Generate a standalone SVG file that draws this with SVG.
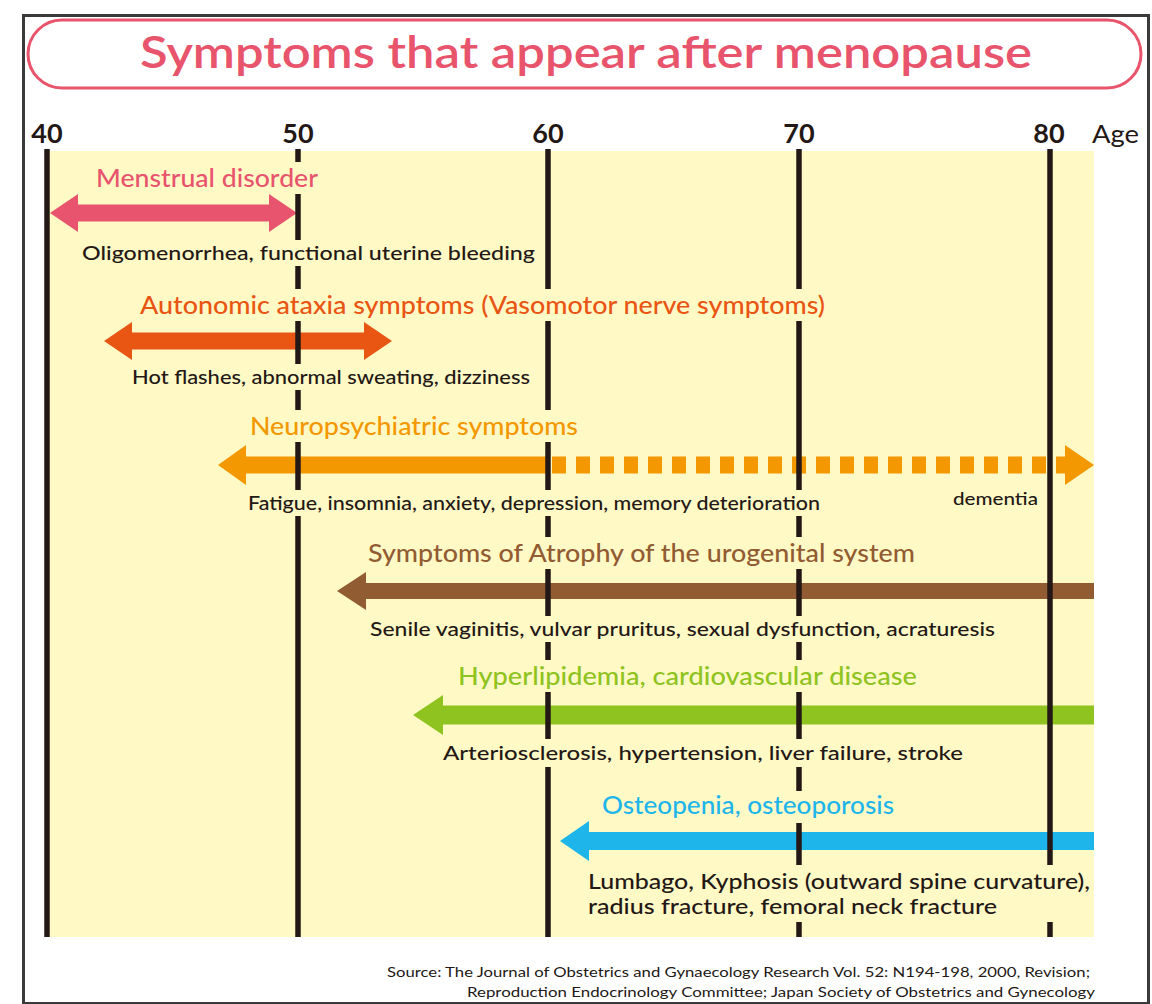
<svg xmlns="http://www.w3.org/2000/svg" width="1152" height="1004" viewBox="0 0 1152 1004">
<style>
.lbl{font-family:Lato,"Open Sans","Liberation Sans",sans-serif;font-size:25px;font-weight:500}
.sub{font-family:Lato,"Open Sans","Liberation Sans",sans-serif;font-size:20px;font-weight:500;fill:#231815}
.axis{font-family:Lato,"Liberation Sans",sans-serif;font-size:27px;font-weight:700;fill:#231815;text-anchor:middle}
.gap{fill:#fff9c6}
.grid line{stroke:#231815;stroke-width:5.5}
.src{font-family:Lato,"Liberation Sans",sans-serif;font-size:14px;fill:#231815}
</style>
<rect width="1152" height="1004" fill="#ffffff"/>
<rect x="23.5" y="15.5" width="1125" height="988" fill="none" stroke="#3a3a3c" stroke-width="3"/>
<g id="title">
<rect x="28" y="20" width="1113" height="68" rx="34" fill="#ffffff" stroke="#e8546c" stroke-width="3"/>
<text x="140" y="68" textLength="892" lengthAdjust="spacingAndGlyphs" style="font-family:Lato,'Open Sans','Liberation Sans',sans-serif;font-size:44px;font-weight:600;fill:#e8546c">Symptoms that appear after menopause</text>
</g>
<rect x="47" y="151" width="1047" height="786" fill="#fff9c6"/>
<g id="axis-labels">
<text class="axis" x="47" y="143">40</text>
<text class="axis" x="298" y="143">50</text>
<text class="axis" x="548" y="143">60</text>
<text class="axis" x="799" y="143">70</text>
<text class="axis" x="1049" y="143">80</text>
<text x="1092" y="143" textLength="47" lengthAdjust="spacingAndGlyphs" style="font-family:Lato,'Liberation Sans',sans-serif;font-size:25px;fill:#231815">Age</text>
</g>
<g id="connectors">
<path id="arrow-menstrual" fill="#e8546d" d="M50,213 L78,194 L78,204.5 L269,204.5 L269,194 L297,213 L269,232 L269,221.5 L78,221.5 L78,232 Z"/>
<path id="arrow-autonomic" fill="#e95513" d="M104,341 L132,322 L132,332.5 L364,332.5 L364,322 L392,341 L364,360 L364,349.5 L132,349.5 L132,360 Z"/>
<path id="arrow-neuro-solid" fill="#f39800" d="M218,465 L246,445 L246,456.5 L548,456.5 L548,473.5 L246,473.5 L246,485 Z"/>
<line id="arrow-neuro-dashed" x1="552" y1="465" x2="1068" y2="465" stroke="#f39800" stroke-width="17" stroke-dasharray="14 10"/>
<path id="arrow-neuro-head" fill="#f39800" d="M1065,445 L1094,465 L1065,485 Z"/>
<path id="arrow-atrophy" fill="#925c32" d="M337,591 L366,572 L366,583 L1094,583 L1094,599 L366,599 L366,610 Z"/>
<path id="arrow-hyper" fill="#8fc31f" d="M413,715 L443,695 L443,705.5 L1094,705.5 L1094,724.5 L443,724.5 L443,735 Z"/>
<path id="arrow-osteo" fill="#1db5ea" d="M560,841 L589,821 L589,832 L1094,832 L1094,850 L589,850 L589,861 Z"/>
</g>
<g class="grid" id="grid">
<line x1="47" y1="149" x2="47" y2="937"/>
<line x1="298" y1="149" x2="298" y2="937"/>
<line x1="548" y1="149" x2="548" y2="937"/>
<line x1="799" y1="149" x2="799" y2="937"/>
<line x1="1050" y1="149" x2="1050" y2="937"/>
</g>
<g id="menstrual">
<rect class="gap" x="93" y="162" width="228" height="32"/>
<rect class="gap" x="79" y="240" width="459" height="26"/>
<text class="lbl" x="96" y="187" textLength="222" lengthAdjust="spacingAndGlyphs" fill="#e8546d">Menstrual disorder</text>
<text class="sub" x="82" y="260" textLength="453" lengthAdjust="spacingAndGlyphs">Oligomenorrhea, functional uterine bleeding</text>
</g>
<g id="autonomic">
<rect class="gap" x="137" y="289" width="691" height="32"/>
<rect class="gap" x="129" y="364" width="404" height="26"/>
<text class="lbl" x="140" y="314" textLength="685" lengthAdjust="spacingAndGlyphs" fill="#e95513">Autonomic ataxia symptoms (Vasomotor nerve symptoms)</text>
<text class="sub" x="132" y="384" textLength="398" lengthAdjust="spacingAndGlyphs">Hot flashes, abnormal sweating, dizziness</text>
</g>
<g id="neuro">
<rect class="gap" x="247" y="410" width="334" height="32"/>
<rect class="gap" x="245" y="490" width="578" height="26"/>
<text class="lbl" x="250" y="435" textLength="328" lengthAdjust="spacingAndGlyphs" fill="#f39800">Neuropsychiatric symptoms</text>
<text class="sub" x="248" y="510" textLength="572" lengthAdjust="spacingAndGlyphs">Fatigue, insomnia, anxiety, depression, memory deterioration</text>
<text class="sub" x="953" y="505" textLength="85" lengthAdjust="spacingAndGlyphs" style="font-size:17px">dementia</text>
</g>
<g id="atrophy">
<rect class="gap" x="365" y="537" width="553" height="32"/>
<rect class="gap" x="367" y="616" width="631" height="26"/>
<text class="lbl" x="368" y="562" textLength="547" lengthAdjust="spacingAndGlyphs" fill="#925c32">Symptoms of Atrophy of the urogenital system</text>
<text class="sub" x="370" y="636" textLength="625" lengthAdjust="spacingAndGlyphs">Senile vaginitis, vulvar pruritus, sexual dysfunction, acraturesis</text>
</g>
<g id="hyperlipidemia">
<rect class="gap" x="455" y="660" width="465" height="32"/>
<rect class="gap" x="440" y="739" width="526" height="28"/>
<text class="lbl" x="458" y="685" textLength="459" lengthAdjust="spacingAndGlyphs" fill="#8fc31f">Hyperlipidemia, cardiovascular disease</text>
<text class="sub" x="443" y="760" textLength="520" lengthAdjust="spacingAndGlyphs">Arteriosclerosis, hypertension, liver failure, stroke</text>
</g>
<g id="osteo">
<rect class="gap" x="599" y="791" width="298" height="32"/>
<rect class="gap" x="585" y="865" width="508" height="57"/>
<text class="lbl" x="602" y="814" textLength="292" lengthAdjust="spacingAndGlyphs" fill="#1db5ea">Osteopenia, osteoporosis</text>
<text class="sub" x="588" y="889" textLength="502" lengthAdjust="spacingAndGlyphs" style="font-size:21px">Lumbago, Kyphosis (outward spine curvature),</text>
<text class="sub" x="588" y="914" textLength="409" lengthAdjust="spacingAndGlyphs" style="font-size:21px">radius fracture, femoral neck fracture</text>
</g>
<g id="source">
<text class="src" x="387" y="977" textLength="703" lengthAdjust="spacingAndGlyphs">Source: The Journal of Obstetrics and Gynaecology Research Vol. 52: N194-198, 2000, Revision;</text>
<text class="src" x="467" y="997" textLength="628" lengthAdjust="spacingAndGlyphs">Reproduction Endocrinology Committee; Japan Society of Obstetrics and Gynecology</text>
</g>
</svg>
